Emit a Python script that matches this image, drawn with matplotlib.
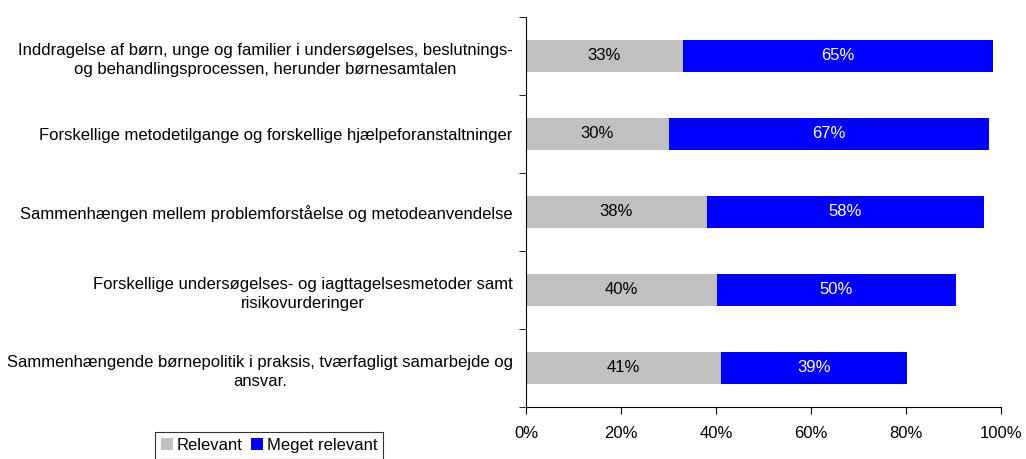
import numpy as np
import matplotlib.pyplot as plt
from matplotlib.ticker import FixedLocator

plt.rcParams['font.family'] = ['Liberation Sans', 'DejaVu Sans']

categories = [
    'Inddragelse af børn, unge og familier i undersøgelses, beslutnings-\nog behandlingsprocessen, herunder børnesamtalen',
    'Forskellige metodetilgange og forskellige hjælpeforanstaltninger',
    'Sammenhængen mellem problemforståelse og metodeanvendelse',
    'Forskellige undersøgelses- og iagttagelsesmetoder samt\nrisikovurderinger',
    'Sammenhængende børnepolitik i praksis, tværfagligt samarbejde og\nansvar.',
]
relevant = [33.0, 30.0, 38.0, 40.2, 41.0]
meget_relevant = [65.4, 67.4, 58.4, 50.3, 39.3]
xticks = [0, 20, 40, 60, 80, 100]

fig = plt.figure(figsize=(10.26, 4.59), dpi=100)
ax = fig.add_axes([526/1026, 1 - 407/459, 475/1026, 390/459])

y = np.arange(len(categories))[::-1]
rel = np.array(relevant)
meg = np.array(meget_relevant)

b1 = ax.barh(y, rel, height=0.4, color='#C0C0C0', label='Relevant')
b2 = ax.barh(y, meg, left=rel, height=0.4, color='#0000FF', label='Meget relevant')

fs = 12
for yi, r, m in zip(y, rel, meg):
    ax.text(r / 2, yi, '%d%%' % round(r), ha='center', va='center', fontsize=fs, color='black')
    ax.text(r + m / 2, yi, '%d%%' % round(m), ha='center', va='center', fontsize=fs, color='white')

ax.set_xlim(0, 100)
ax.set_ylim(-0.5, len(categories) - 0.5)
ax.set_xticks(xticks)
ax.set_xticklabels(['%d%%' % t for t in xticks], fontsize=fs)
ax.set_yticks(y)
ax.set_yticklabels(categories, fontsize=fs, multialignment='center')
for lab in ax.get_yticklabels():
    lab.set_linespacing(1.4)
ax.yaxis.set_minor_locator(FixedLocator(np.arange(-0.5, len(categories), 1)))
ax.tick_params(axis='y', which='major', length=0, pad=9.5)
ax.tick_params(axis='y', which='minor', length=5, direction='out')
ax.tick_params(axis='x', length=5, direction='out', pad=9)

for s in ['top', 'right']:
    ax.spines[s].set_visible(False)
for s in ['left', 'bottom']:
    ax.spines[s].set_linewidth(0.8)

leg = fig.legend(handles=[b1, b2], loc='upper left', bbox_to_anchor=(155/1026, 1 - 432/459),
                 ncol=2, fontsize=fs, frameon=True, fancybox=False, edgecolor='black',
                 handlelength=0.7, handleheight=0.7, handletextpad=0.25, columnspacing=0.5,
                 borderpad=0.35, borderaxespad=0)
leg.get_frame().set_linewidth(0.8)

fig.savefig('out.png', dpi=100)
